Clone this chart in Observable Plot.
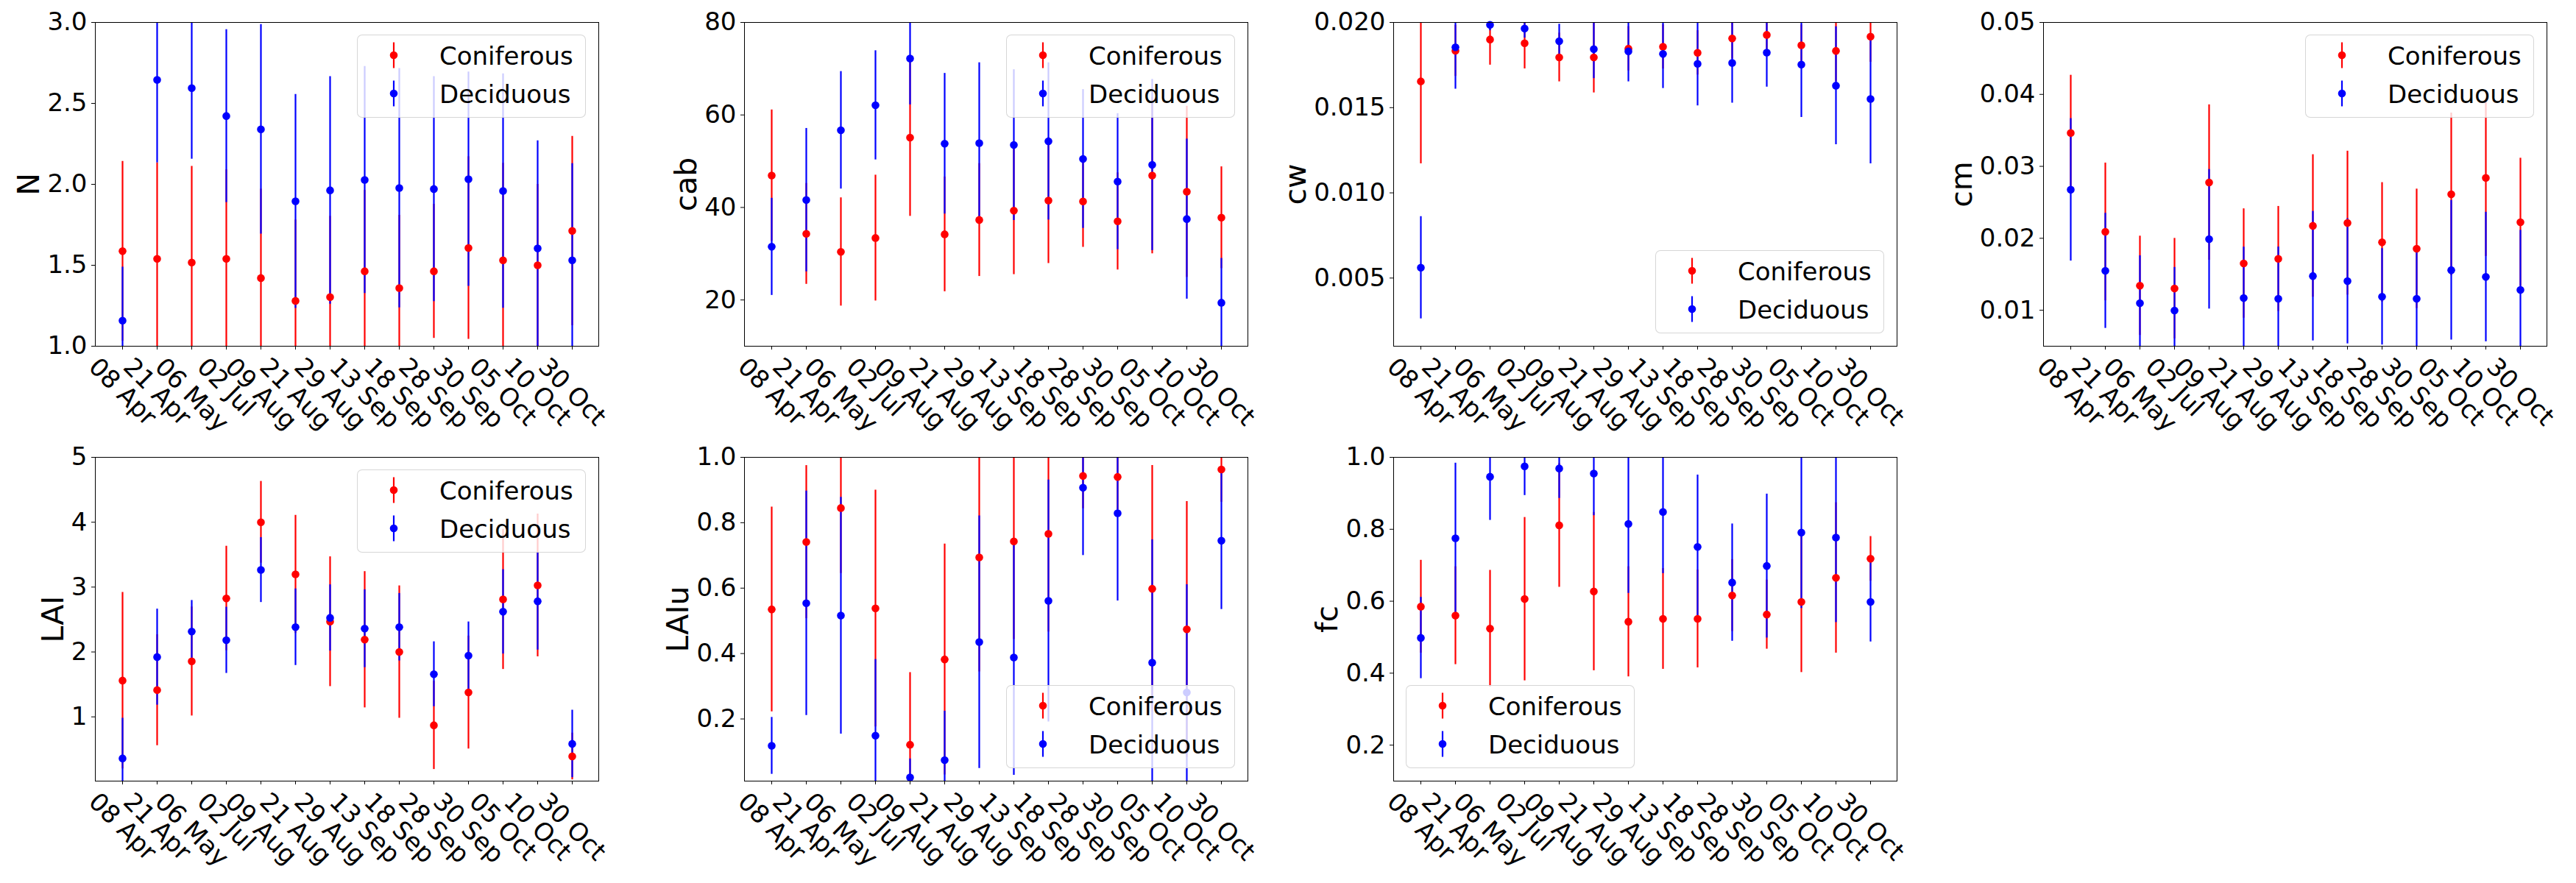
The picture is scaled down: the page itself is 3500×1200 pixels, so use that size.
<!DOCTYPE html>
<html><head><meta charset="utf-8">
<script src="https://cdn.jsdelivr.net/npm/d3@7"></script>
<script src="https://cdn.jsdelivr.net/npm/@observablehq/plot@0.6"></script>
<style>
html,body{margin:0;padding:0;background:#fff;}
#fig{position:relative;width:3500px;height:1200px;overflow:hidden;font-family:"DejaVu Sans",sans-serif;background:#fff;}
.panel{position:absolute;}
.panel svg{max-width:none !important;}
.legend{position:absolute;width:311px;height:113px;box-sizing:border-box;background:rgba(255,255,255,0.8);border:1px solid rgba(204,204,204,0.8);border-radius:7px;}
.legend .lab{position:absolute;left:111px;font-size:34px;line-height:34px;color:#000;white-space:nowrap;}
.legend svg{position:absolute;left:38px;}
</style>
</head><body>
<div id="fig"></div>
<script>
const dates = ["08 Apr","21 Apr","06 May","02 Jul","09 Aug","21 Aug","29 Aug","13 Sep","18 Sep","28 Sep","30 Sep","05 Oct","10 Oct","30 Oct"];
const seriesNames = ["Coniferous","Deciduous"];

const N_con = [1.587,1.540,1.517,1.540,1.421,1.280,1.303,1.463,1.359,1.463,1.607,1.531,1.500,1.712];
const N_conErr = [0.555,0.593,0.594,0.55,0.55,0.5,0.5,0.5,0.45,0.414,0.564,0.6,0.5,0.585];
const N_dec = [1.158,2.645,2.594,2.422,2.340,1.895,1.963,2.027,1.977,1.971,2.032,1.959,1.604,1.531];
const N_decErr = [0.331,0.512,0.438,0.534,0.647,0.661,0.703,0.701,0.739,0.695,0.662,0.724,0.665,0.597];

const cab_con = [46.9,34.3,30.4,33.4,55.1,34.2,37.3,39.3,41.5,41.3,37.0,46.9,43.4,37.8];
const cab_conErr = [14.2,10.9,11.7,13.6,17.0,12.4,12.2,13.8,13.6,9.9,10.5,16.9,18.5,11.0];
const cab_dec = [31.5,41.6,56.7,62.1,72.2,53.8,53.9,53.5,54.3,50.5,45.6,49.2,37.5,19.4];
const cab_decErr = [10.5,15.5,12.7,11.8,10.0,15.2,17.4,16.3,17.0,15.0,14.7,18.5,17.3,9.6];

const cw_con = [0.01654,0.01834,0.01900,0.01878,0.01795,0.01795,0.01846,0.01857,0.01822,0.01906,0.01927,0.01866,0.01833,0.01917];
const cw_conErr = [0.00483,0.0015,0.0015,0.0015,0.00143,0.00208,0.0013,0.0013,0.0013,0.0012,0.0012,0.0012,0.0018,0.0015];
const cw_dec = [0.00561,0.01854,0.01986,0.01964,0.0189,0.01843,0.0183,0.01815,0.01757,0.01762,0.01823,0.01753,0.01629,0.01551];
const cw_decErr = [0.0030,0.00245,0.00034,0.00055,0.0010,0.00172,0.00178,0.00202,0.00246,0.00235,0.00202,0.0031,0.00346,0.0038];

const cm_con = [0.03463,0.0209,0.01341,0.01302,0.02776,0.01651,0.01714,0.02173,0.02212,0.01945,0.01855,0.02612,0.02839,0.02224];
const cm_conErr = [0.00804,0.00957,0.0069,0.00698,0.0108,0.0076,0.0073,0.0099,0.0100,0.0083,0.0083,0.0113,0.0109,0.0089];
const cm_dec = [0.02675,0.01549,0.01098,0.00996,0.01988,0.01169,0.0116,0.01475,0.01404,0.01188,0.0116,0.01557,0.01463,0.01282];
const cm_decErr = [0.0099,0.0080,0.0066,0.0060,0.0097,0.0071,0.0072,0.0090,0.0087,0.0067,0.0069,0.0097,0.0090,0.0083];

const LAI_con = [1.559,1.412,1.855,2.826,4.0,3.197,2.468,2.19,2.0,0.87,1.376,2.812,3.027,0.391];
const LAI_conErr = [1.36,0.855,0.84,0.805,0.63,0.91,1.0,1.05,1.02,0.68,0.87,1.08,1.1,0.36];
const LAI_dec = [0.36,1.922,2.315,2.181,3.264,2.383,2.526,2.36,2.383,1.658,1.944,2.62,2.781,0.584];
const LAI_decErr = [0.62,0.74,0.48,0.51,0.5,0.59,0.51,0.6,0.52,0.5,0.52,0.65,0.75,0.52];

const LAIu_con = [0.535,0.741,0.845,0.538,0.121,0.382,0.694,0.743,0.766,0.943,0.940,0.598,0.474,0.963];
const LAIu_conErr = [0.313,0.234,0.2,0.362,0.221,0.353,0.35,0.3,0.3,0.1,0.1,0.377,0.391,0.1];
const LAIu_dec = [0.118,0.554,0.516,0.149,0.021,0.074,0.435,0.388,0.561,0.907,0.829,0.372,0.281,0.745];
const LAIu_decErr = [0.087,0.343,0.362,0.233,0.057,0.15,0.386,0.36,0.37,0.207,0.268,0.376,0.33,0.21];

const fc_con = [0.585,0.560,0.524,0.606,0.811,0.627,0.543,0.551,0.551,0.616,0.563,0.598,0.665,0.718];
const fc_conErr = [0.129,0.136,0.162,0.227,0.172,0.22,0.153,0.14,0.136,0.1,0.096,0.196,0.209,0.062];
const fc_dec = [0.498,0.775,0.946,0.975,0.969,0.955,0.815,0.848,0.751,0.652,0.698,0.791,0.777,0.598];
const fc_decErr = [0.113,0.209,0.121,0.081,0.083,0.117,0.193,0.171,0.2,0.163,0.2,0.211,0.236,0.111];

const N_ticks = [1.0,1.5,2.0,2.5,3.0];
const cab_ticks = [20,40,60,80];
const cw_ticks = [0.005,0.010,0.015,0.020];
const cm_ticks = [0.01,0.02,0.03,0.04,0.05];
const LAI_ticks = [1,2,3,4,5];
const LAIu_ticks = [0.2,0.4,0.6,0.8,1.0];
const fc_ticks = [0.2,0.4,0.6,0.8,1.0];

const panels = [
  {name:"N", con:N_con, conErr:N_conErr, dec:N_dec, decErr:N_decErr, domain:[1,3], ticks:N_ticks, fmt:".1f", legend:"ur", col:0, row:0},
  {name:"cab", con:cab_con, conErr:cab_conErr, dec:cab_dec, decErr:cab_decErr, domain:[10,80], ticks:cab_ticks, fmt:"d", legend:"ur", col:1, row:0},
  {name:"cw", con:cw_con, conErr:cw_conErr, dec:cw_dec, decErr:cw_decErr, domain:[0.001,0.020], ticks:cw_ticks, fmt:".3f", legend:"lr", col:2, row:0},
  {name:"cm", con:cm_con, conErr:cm_conErr, dec:cm_dec, decErr:cm_decErr, domain:[0.005,0.05], ticks:cm_ticks, fmt:".2f", legend:"ur", col:3, row:0},
  {name:"LAI", con:LAI_con, conErr:LAI_conErr, dec:LAI_dec, decErr:LAI_decErr, domain:[0.01,5], ticks:LAI_ticks, fmt:"d", legend:"ur", col:0, row:1},
  {name:"LAIu", con:LAIu_con, conErr:LAIu_conErr, dec:LAIu_dec, decErr:LAIu_decErr, domain:[0.01,1.0], ticks:LAIu_ticks, fmt:".1f", legend:"lr", col:1, row:1},
  {name:"fc", con:fc_con, conErr:fc_conErr, dec:fc_dec, decErr:fc_decErr, domain:[0.1,1.0], ticks:fc_ticks, fmt:".1f", legend:"ll", col:2, row:1}
];

const RED = "#ff0000", BLUE = "#0000ff";
const colLeft = [129, 1011, 1893, 2776];
const rowTop = [30, 621];
const W = 684, H = 440;
const ML = 180, MR = 20, MT = 30, MB = 140;
const FS = 34, LFS = 41, TICK = 5, PAD = 6;

const ctx = document.createElement("canvas").getContext("2d");
ctx.font = FS + 'px "DejaVu Sans"';
const tw = s => ctx.measureText(s).width;

const fig = document.getElementById("fig");

for (const p of panels) {
  const rows = dates.map((d, i) => ({date: d, con: p.con[i], cErr: p.conErr[i], dec: p.dec[i], dErr: p.decErr[i]}));
  const fmt = d3.format(p.fmt);
  const maxW = d3.max(p.ticks, t => tw(fmt(t)));
  const gap = TICK + PAD + maxW + 11;
  const xLabels = dates.map(d => Plot.text([d], {
    x: v => v, text: v => v, frameAnchor: "bottom", rotate: 45,
    textAnchor: "start", lineAnchor: "top", fontSize: FS, fill: "black",
    dx: -0.3535 * (tw(d) - 39.6) - 4.8, dy: 13
  }));
  const plot = Plot.plot({
    width: ML + W + MR, height: MT + H + MB,
    marginLeft: ML, marginRight: MR, marginTop: MT, marginBottom: MB,
    style: {background: "transparent", fontFamily: "DejaVu Sans", fontSize: FS + "px", color: "black", overflow: "visible"},
    x: {type: "point", domain: dates, padding: 0.65, axis: null},
    y: {domain: p.domain, nice: false, axis: null},
    marks: [
      Plot.ruleX(rows, {x: "date", y1: d => d.con - d.cErr, y2: d => d.con + d.cErr, stroke: RED, strokeWidth: 2.2, clip: true}),
      Plot.ruleX(rows, {x: "date", y1: d => d.dec - d.dErr, y2: d => d.dec + d.dErr, stroke: BLUE, strokeWidth: 2.2, clip: true}),
      Plot.dot(rows, {x: "date", y: "con", r: 5.3, fill: RED}),
      Plot.dot(rows, {x: "date", y: "dec", r: 5.3, fill: BLUE}),
      Plot.frame({stroke: "black", strokeWidth: 1}),
      Plot.axisY({ticks: p.ticks, tickFormat: fmt, tickSize: TICK, tickPadding: PAD, label: null, fontSize: FS}),
      Plot.axisX({tickSize: TICK, tickFormat: () => "", label: null}),
      ...xLabels,
      Plot.text([p.name], {text: v => v, frameAnchor: "left", rotate: -90, textAnchor: "middle", lineAnchor: "bottom", dx: -gap, fontSize: LFS, fill: "black"})
    ]
  });
  const L = colLeft[p.col], T = rowTop[p.row];
  const div = document.createElement("div");
  div.className = "panel";
  div.style.left = (L - ML) + "px";
  div.style.top = (T - MT) + "px";
  div.style.width = (ML + W + MR) + "px";
  div.appendChild(plot);
  fig.appendChild(div);

  // legend
  const lg = document.createElement("div");
  lg.className = "legend";
  const LW = 311, LH = 113, IN = 17;
  const lx = p.legend === "ll" ? L + IN : L + W - IN - LW;
  const ly = p.legend === "ur" ? T + IN : T + H - IN - LH;
  lg.style.left = lx + "px";
  lg.style.top = ly + "px";
  [[seriesNames[0], RED, 27], [seriesNames[1], BLUE, 79]].forEach(([name, col, cy]) => {
    const ns = "http://www.w3.org/2000/svg";
    const s = document.createElementNS(ns, "svg");
    s.setAttribute("width", 22); s.setAttribute("height", 38);
    s.style.top = (cy - 19) + "px";
    const ln = document.createElementNS(ns, "line");
    ln.setAttribute("x1", 11); ln.setAttribute("x2", 11); ln.setAttribute("y1", 1.5); ln.setAttribute("y2", 36.5);
    ln.setAttribute("stroke", col); ln.setAttribute("stroke-width", 2.2);
    const c = document.createElementNS(ns, "circle");
    c.setAttribute("cx", 11); c.setAttribute("cy", 19); c.setAttribute("r", 5.3); c.setAttribute("fill", col);
    s.appendChild(ln); s.appendChild(c);
    lg.appendChild(s);
    const t = document.createElement("div");
    t.className = "lab";
    t.textContent = name;
    t.style.top = (cy - 16) + "px";
    lg.appendChild(t);
  });
  fig.appendChild(lg);
}
</script>
</body></html>
